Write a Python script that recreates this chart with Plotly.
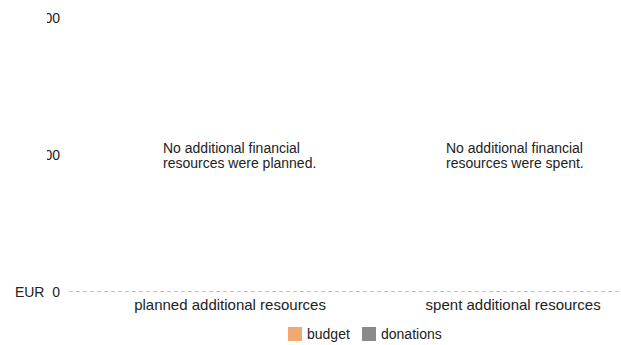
import plotly.graph_objects as go

# Categories and the two funding series (EUR)
categories = ["planned additional resources", "spent additional resources"]
budget = [0, 0]
donations = [0, 0]
series_names = ["budget", "donations"]
series_colors = ["#f0a96e", "#8a8a8a"]
notes = [
    ["No additional financial", "resources were planned."],
    ["No additional financial", "resources were spent."],
]
y_tickvals = [0, 100, 200]
y_ticktext = ["EUR\u00a0\u00a00", "EUR\u00a0\u00a0100", "EUR\u00a0\u00a0200"]

FONT = "Arial, Liberation Sans, Helvetica, sans-serif"
INK = "#222"

# plot area in pixels, used to place the legend boxes in paper units
L, T, W, H = 69, 18, 552, 274


def px_x(px):
    return (px - L) / W


def px_y(py):
    return (T + H - py) / H


fig = go.Figure()
for name, vals, col in zip(series_names, [budget, donations], series_colors):
    fig.add_trace(go.Bar(name=name, x=categories, y=vals, showlegend=False,
                         marker=dict(color=col, line=dict(width=0))))

# two-line notes, left aligned, in the middle of each category
for cat, lines in zip(categories, notes):
    for i, line in enumerate(lines):
        fig.add_annotation(x=cat, y=100, text=line, showarrow=False,
                           xanchor="left", yanchor="middle", xshift=-69,
                           yshift=7.5 - 15 * i,
                           font=dict(family=FONT, size=14, color=INK))

# dashed baseline at zero
fig.add_shape(type="line", xref="paper", x0=0, x1=1, yref="y", y0=0, y1=0,
              line=dict(color="#888888", width=1, dash="4px,3px"))
# upper value labels sit partly behind the page edge panel
fig.add_shape(type="rect", xref="paper", x0=-0.2, x1=px_x(47),
              yref="paper", y0=0.3, y1=1.2, fillcolor="white",
              line=dict(width=0), layer="above")

# legend: coloured squares with labels beneath the chart
legend_x = [288, 362]
for x0, name, col in zip(legend_x, series_names, series_colors):
    fig.add_shape(type="rect", xref="paper", yref="paper",
                  x0=px_x(x0), x1=px_x(x0 + 14), y0=px_y(341), y1=px_y(327),
                  fillcolor=col, line=dict(width=0))
    fig.add_annotation(xref="paper", yref="paper", x=px_x(x0 + 17),
                       y=px_y(334), text=name, showarrow=False,
                       xanchor="left", yanchor="middle",
                       font=dict(family=FONT, size=14, color=INK))

fig.update_layout(
    width=621, height=345,
    margin=dict(l=L, r=621 - L - W, t=T, b=345 - T - H),
    paper_bgcolor="white", plot_bgcolor="white",
    barmode="group",
    showlegend=False,
    xaxis=dict(type="category", range=[-0.569, 1.381], showgrid=False,
               showline=False, zeroline=False, ticks="",
               ticklabelstandoff=2,
               tickfont=dict(family=FONT, size=15, color=INK)),
    yaxis=dict(range=[0, 200], tickvals=y_tickvals, ticktext=y_ticktext,
               showgrid=False, showline=False, zeroline=False, ticks="",
               ticklabelstandoff=8,
               tickfont=dict(family=FONT, size=14, color=INK)),
    hovermode=False,
)

fig.write_html("out.html")
